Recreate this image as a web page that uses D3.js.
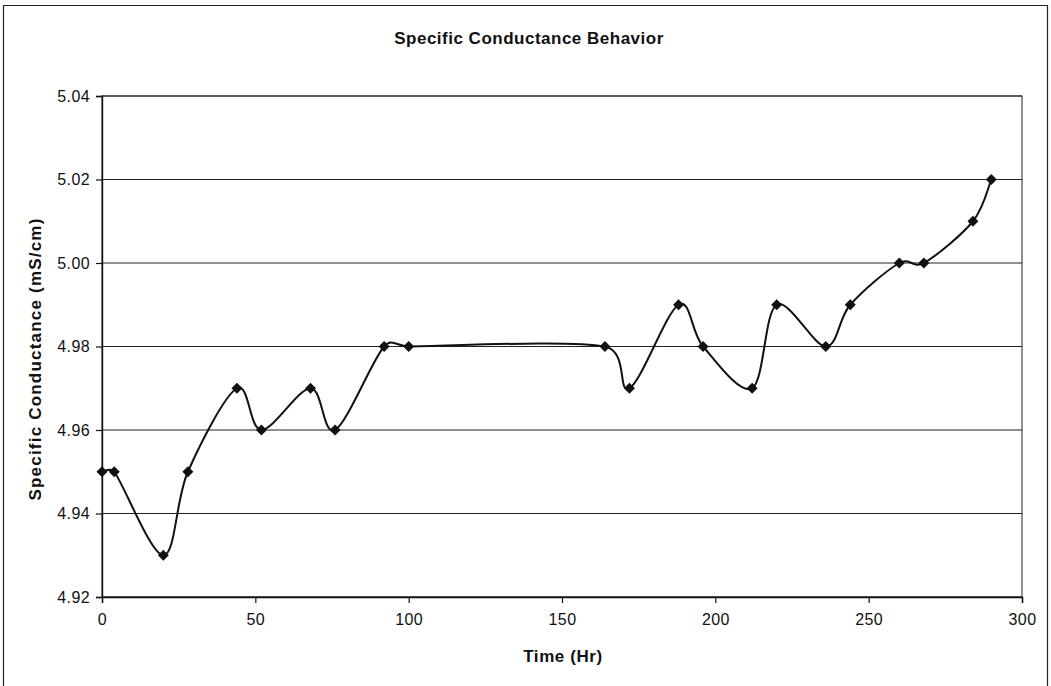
<!DOCTYPE html>
<html>
<head>
<meta charset="utf-8">
<script src="https://cdn.jsdelivr.net/npm/d3@7"></script>
<style>
  html, body { margin: 0; padding: 0; background: #fff; }
  svg { display: block; font-family: "Liberation Sans", Arial, sans-serif; }
</style>
</head>
<body>
<svg id="chart" width="1051" height="686"></svg>
<script>
// Elapsed time (hours) and specific conductance readings (mS/cm)
const timeHr = [0, 4, 20, 28, 44, 52, 68, 76, 92, 100, 164, 172, 188, 196, 212, 220, 236, 244, 260, 268, 284, 290];
const conductance = [4.95, 4.95, 4.93, 4.95, 4.97, 4.96, 4.97, 4.96, 4.98, 4.98, 4.98, 4.97, 4.99, 4.98, 4.97, 4.99, 4.98, 4.99, 5.00, 5.00, 5.01, 5.02];
const xTicks = [0, 50, 100, 150, 200, 250, 300];
const yTicks = [4.92, 4.94, 4.96, 4.98, 5.00, 5.02, 5.04];

const svg = d3.select("#chart");
const W = 1051, H = 686;
const plot = { left: 102, right: 1022, top: 96, bottom: 597 };
const ink = "#111";

// Outer chart frame (left, top, right edges)
svg.append("path")
  .attr("d", `M3.5,${H} V5.5 H${W - 3.5} V${H}`)
  .attr("fill", "none").attr("stroke", "#222").attr("stroke-width", 1.2);

const x = d3.scaleLinear().domain([0, 300]).range([plot.left, plot.right]);
const y = d3.scaleLinear().domain([4.92, 5.04]).range([plot.bottom, plot.top]);

// Horizontal gridlines
svg.append("g")
  .selectAll("line")
  .data(yTicks)
  .join("line")
  .attr("x1", plot.left).attr("x2", plot.right)
  .attr("y1", d => y(d)).attr("y2", d => y(d))
  .attr("stroke", "#222").attr("stroke-width", 1);

// Plot area border
svg.append("rect")
  .attr("x", plot.left).attr("y", plot.top)
  .attr("width", plot.right - plot.left).attr("height", plot.bottom - plot.top)
  .attr("fill", "none").attr("stroke", "#222").attr("stroke-width", 1);

// Axes
const xAxis = svg.append("g")
  .attr("transform", `translate(0,${plot.bottom})`)
  .call(d3.axisBottom(x).tickValues(xTicks).tickSize(6).tickPadding(11).tickFormat(d3.format("d")));
const yAxis = svg.append("g")
  .attr("transform", `translate(${plot.left},0)`)
  .call(d3.axisLeft(y).tickValues(yTicks).tickSize(6).tickPadding(6).tickFormat(d3.format(".2f")));

[xAxis, yAxis].forEach(g => {
  g.select(".domain").attr("stroke", ink).attr("stroke-width", 1.4);
  g.selectAll(".tick line").attr("stroke", ink).attr("stroke-width", 1.2);
  g.selectAll(".tick text")
    .attr("fill", ink)
    .style("font-family", "'Liberation Sans', Arial, sans-serif")
    .style("font-size", "16px")
    .style("letter-spacing", "0.4px");
});

// Smoothed series line: Catmull-Rom style Bezier segments whose control
// handles are capped at half the segment length to avoid loops.
const pts = conductance.map((v, i) => [x(timeHr[i]), y(v)]);
const dist = (a, b) => Math.hypot(b[0] - a[0], b[1] - a[1]);
const smooth = d3.path();
pts.forEach((p, i) => {
  if (i === 0) { smooth.moveTo(p[0], p[1]); return; }
  const p1 = pts[i - 1], p2 = p;
  const p0 = pts[i - 2] || p1, p3 = pts[i + 1] || p2;
  const half = dist(p1, p2) / 2;
  let v1 = [(p2[0] - p0[0]) / 6, (p2[1] - p0[1]) / 6];
  let v2 = [(p3[0] - p1[0]) / 6, (p3[1] - p1[1]) / 6];
  const l1 = Math.hypot(v1[0], v1[1]), l2 = Math.hypot(v2[0], v2[1]);
  if (l1 > half) v1 = v1.map(c => c * half / l1);
  if (l2 > half) v2 = v2.map(c => c * half / l2);
  smooth.bezierCurveTo(p1[0] + v1[0], p1[1] + v1[1], p2[0] - v2[0], p2[1] - v2[1], p2[0], p2[1]);
});

svg.append("path")
  .attr("d", smooth.toString())
  .attr("fill", "none")
  .attr("stroke", ink)
  .attr("stroke-width", 2);

// Diamond markers
const r = 5.5;
svg.append("g")
  .selectAll("path")
  .data(conductance)
  .join("path")
  .attr("d", `M0,${-r}L${r},0L0,${r}L${-r},0Z`)
  .attr("transform", (d, i) => `translate(${x(timeHr[i])},${y(d)})`)
  .attr("fill", ink);

// Titles
svg.append("text")
  .attr("x", 529).attr("y", 44)
  .attr("text-anchor", "middle")
  .style("font-size", "17px").style("font-weight", "bold")
  .style("letter-spacing", "0.5px")
  .attr("fill", ink)
  .text("Specific Conductance Behavior");

svg.append("text")
  .attr("x", 563).attr("y", 662)
  .attr("text-anchor", "middle")
  .style("font-size", "17px").style("font-weight", "bold")
  .style("letter-spacing", "0.6px")
  .attr("fill", ink)
  .text("Time (Hr)");

svg.append("text")
  .attr("transform", `translate(41,359) rotate(-90)`)
  .attr("text-anchor", "middle")
  .style("font-size", "17px").style("font-weight", "bold")
  .style("letter-spacing", "1.2px")
  .attr("fill", ink)
  .text("Specific Conductance (mS/cm)");
</script>
</body>
</html>
